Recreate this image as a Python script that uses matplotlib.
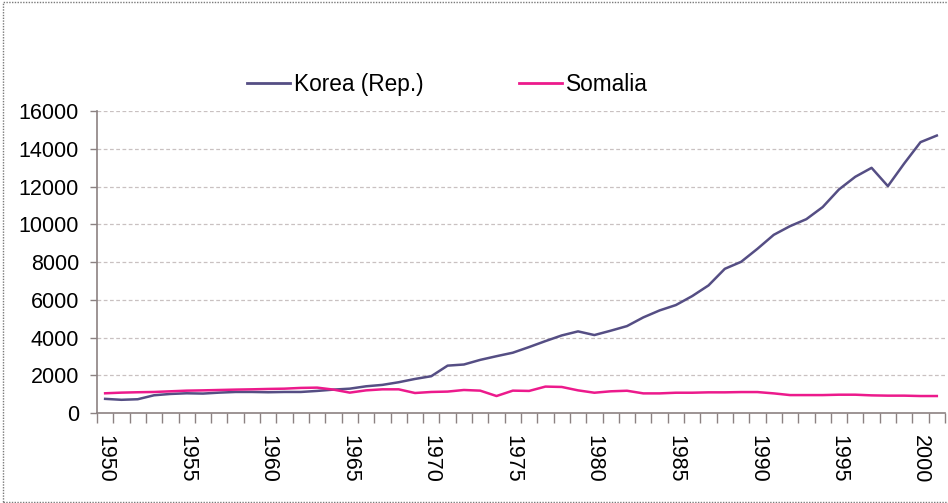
#!/usr/bin/env python
from matplotlib import pyplot as plt
from matplotlib.lines import Line2D
import numpy as np

plt.rcParams['font.family'] = ['Liberation Sans', 'DejaVu Sans']

years = list(range(1950, 2002))

korea = [750, 700, 730, 940, 1010, 1045, 1030, 1080, 1115, 1115,
         1100, 1115, 1115, 1170, 1240, 1290, 1415, 1490, 1630, 1805,
         1950, 2510, 2570, 2815, 3010, 3195, 3495, 3810, 4110, 4325,
         4130, 4360, 4605, 5065, 5435, 5720, 6195, 6760, 7640, 8010,
         8700, 9440, 9900, 10270, 10910, 11845, 12515, 12990, 12020, 13220,
         14350, 14700]

somalia = [1045, 1080, 1100, 1115, 1150, 1185, 1200, 1220, 1240, 1255,
           1275, 1290, 1330, 1345, 1240, 1080, 1200, 1255, 1255, 1060,
           1115, 1135, 1220, 1185, 900, 1185, 1170, 1400, 1380, 1200,
           1075, 1150, 1180, 1040, 1040, 1075, 1075, 1095, 1095, 1110,
           1110, 1040, 950, 950, 950, 970, 970, 935, 920, 920,
           900, 900]

series_names = ['Korea (Rep.)', 'Somalia']
series_colors = ['#554e84', '#ec1a8c']

yticks = list(range(0, 16001, 2000))
label_years = list(range(1950, 2001, 5))

fig = plt.figure(figsize=(9.48, 5.03), dpi=100)
ax = fig.add_axes([0.1023, 0.1789, 0.8945, 0.6004])

ax.plot(years, korea, color=series_colors[0], lw=1.8, zorder=3)
ax.plot(years, somalia, color=series_colors[1], lw=1.8, zorder=3)

ax.set_xlim(years[0] - 0.5, years[-1] + 0.5)
ax.set_ylim(0, 16000)

ax.set_yticks(yticks)
ax.set_yticklabels([str(v) for v in yticks], fontsize=15.5)
for v in yticks[1:]:
    ax.axhline(v, color='#c9c1c1', lw=0.9, ls=(0, (3, 2)), zorder=1)

ax.set_xticks(label_years)
ax.set_xticklabels([str(y) for y in label_years], rotation=-90, fontsize=15.5)
ax.set_xticks(np.arange(years[0] - 0.5, years[-1] + 1.0, 1.0), minor=True)
ax.tick_params(axis='x', which='major', length=0, pad=16)
ax.tick_params(axis='x', which='minor', length=7, width=1, color='#8c8282', direction='out')
ax.tick_params(axis='y', length=5, width=1, color='#8c8282', direction='out', pad=8)

for s in ['top', 'right']:
    ax.spines[s].set_visible(False)
for s in ['left', 'bottom']:
    ax.spines[s].set_color('#8c8282')
    ax.spines[s].set_linewidth(1.2)

handles = [Line2D([], [], color=c, lw=2) for c in series_colors]
fig.legend(handles, series_names, loc='center', bbox_to_anchor=(0.472, 0.833),
           ncol=2, frameon=False, fontsize=16.3, handlelength=1.9,
           handletextpad=0.18, columnspacing=4.2, borderpad=0)

# dotted outer frame like the original chart area
frame = plt.Rectangle((0.003, 0.002), 1.2, 0.994, transform=fig.transFigure,
                      fill=False, ec='#7a7a7a', lw=1, ls=(0, (1, 1)))
fig.patches.append(frame)

fig.savefig('out.png', dpi=100)
